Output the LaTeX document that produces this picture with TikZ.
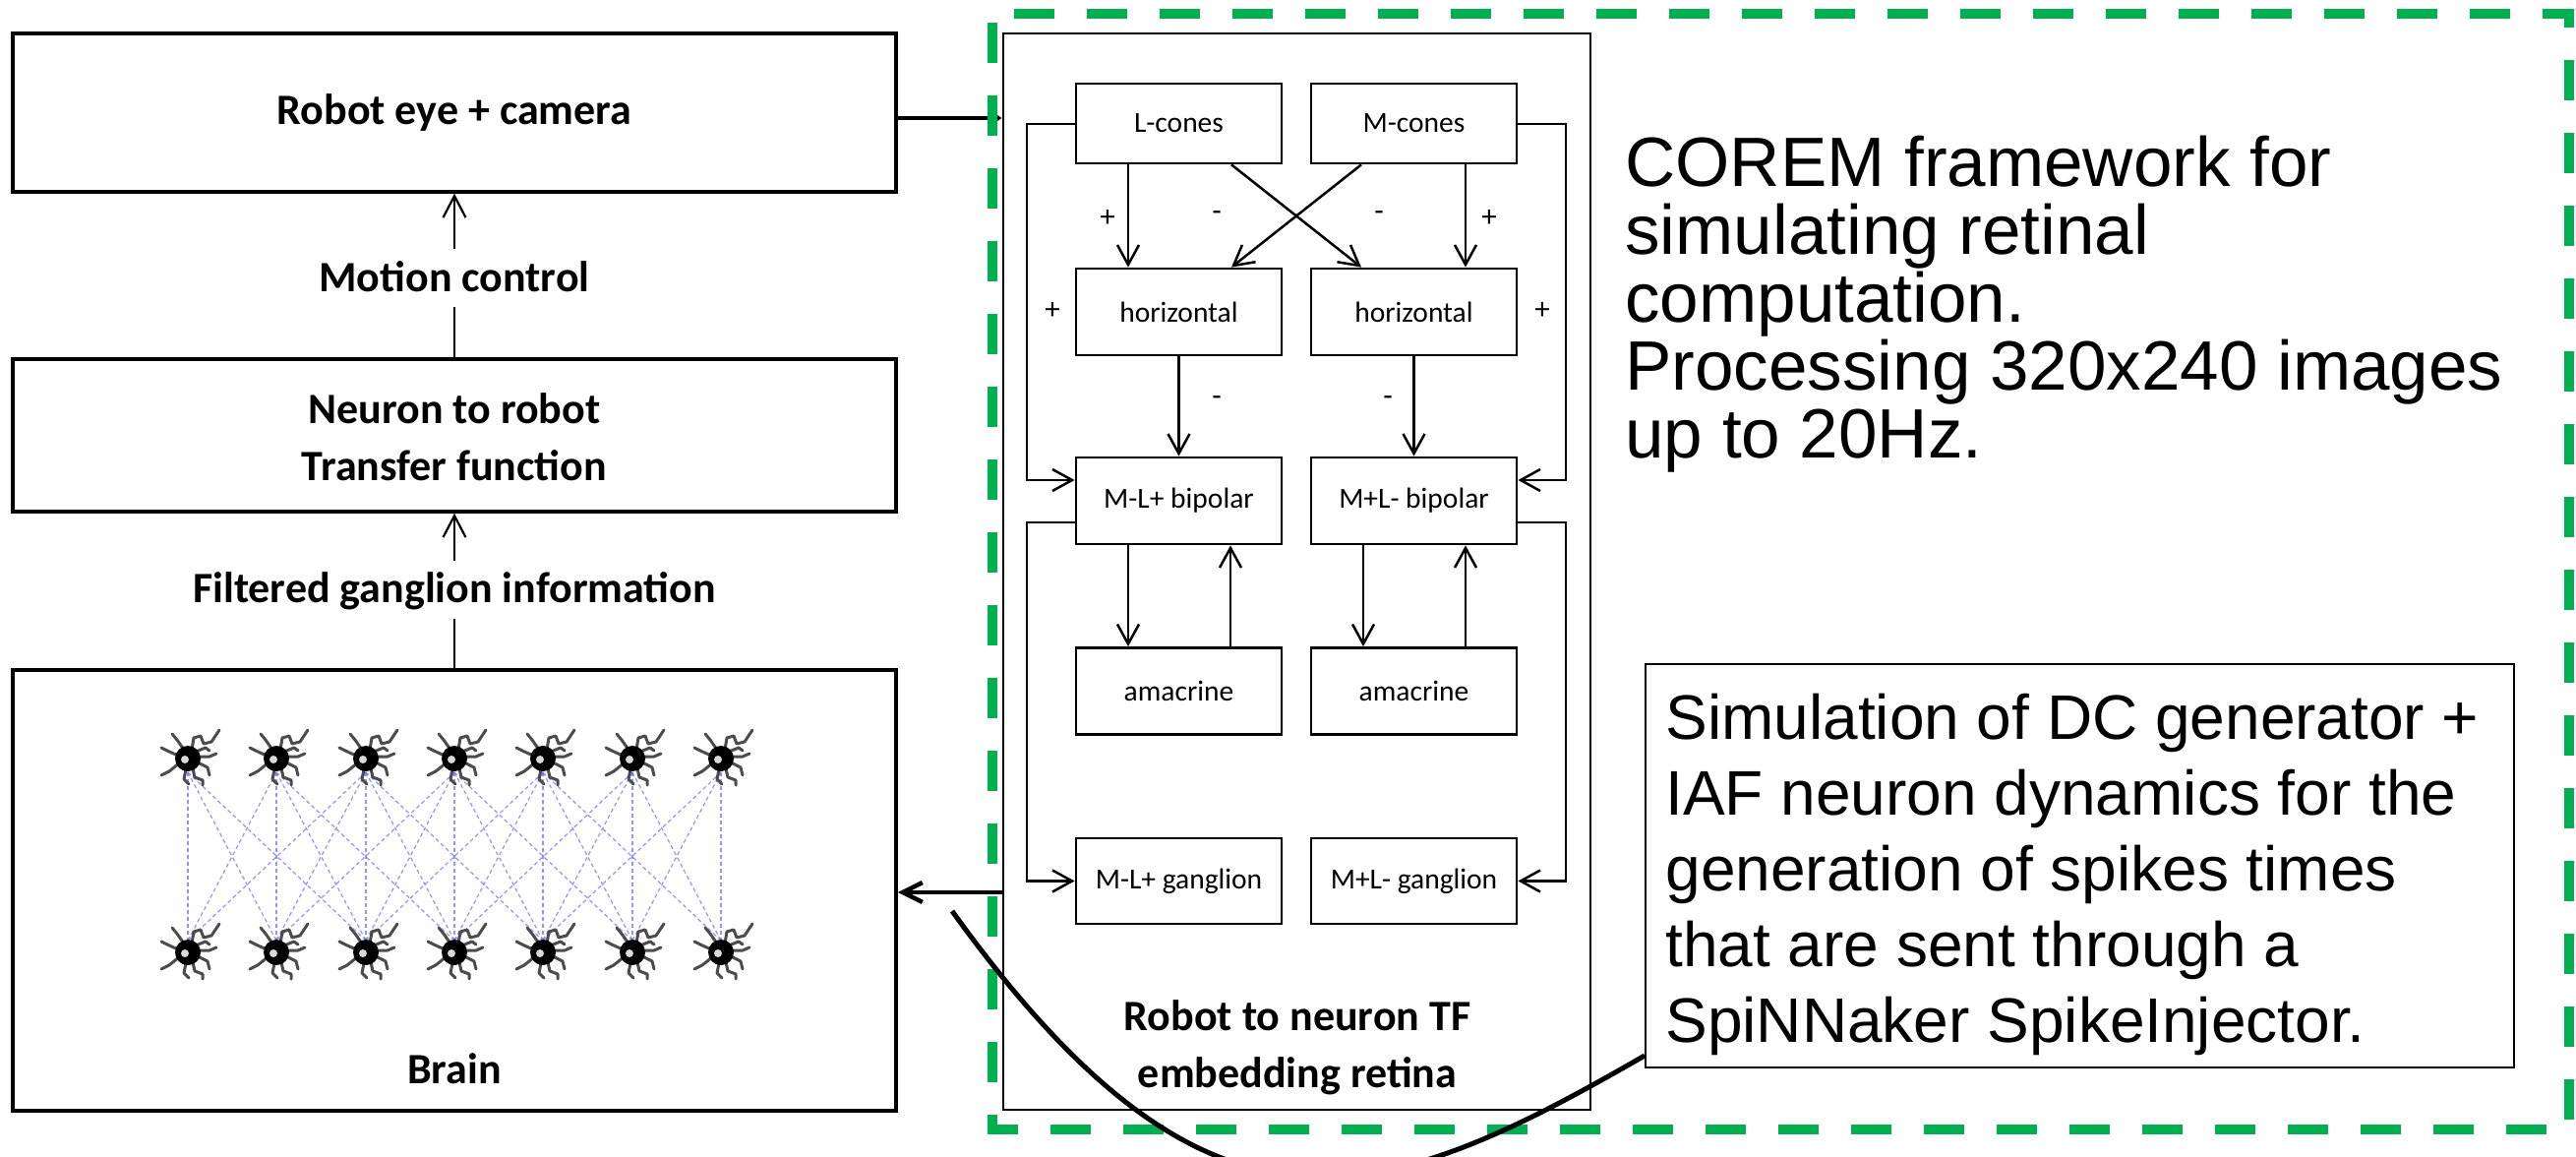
\documentclass[tikz,border=0pt]{standalone}
\usepackage{fontspec}
\setmainfont{Carlito}
\newfontfamily\arialfont{Liberation Sans}
\usetikzlibrary{arrows.meta,calc}
\definecolor{framegreen}{RGB}{0,176,80}
\definecolor{linkblue}{RGB}{110,110,255}
\pgfdeclarelayer{back}
\pgfsetlayers{back,main}

\begin{document}
\begin{tikzpicture}[x=0.5pt,y=-0.5pt,
  box/.style={draw, line width=1.75pt, minimum width=449pt, inner sep=0pt},
  cell/.style={draw, line width=1.4pt, minimum width=104.5pt, minimum height=44pt,
    inner sep=0pt, font=\fontsize{14.75pt}{18pt}\selectfont},
  biglbl/.style={font=\bfseries\fontsize{22pt}{29pt}\selectfont, align=center, inner sep=0pt},
  sign/.style={font=\fontsize{15.5pt}{18pt}\selectfont, inner sep=0pt},
  arr/.style={line width=1.25pt, -{Straight Barb[length=10pt,width=11pt]}},
  uparr/.style={line width=1.1pt, -{Straight Barb[length=11pt,width=11.5pt]}},
  link/.style={linkblue, line width=0.6pt, dash pattern=on 2pt off 1.5pt, opacity=0.75},
  prose/.style={align=left, inner sep=0pt},
  dend/.style={black!70, line width=1.5pt, line cap=round, line join=round},
  nrn/.pic={
    \draw[dend] (4,-9) -- (6,-21) -- (13,-23) -- (16,-15) -- (24,-17) -- (32,-29);
    \draw[dend] (-4,-9) -- (-11,-19) -- (-16,-25);
    \draw[dend] (-10,-3) -- (-21,-8) -- (-27,-11);
    \draw[dend] (-9,5) -- (-19,13) -- (-27,17);
    \draw[dend] (-2,11) -- (-4,21) -- (1,26);
    \draw[dend] (5,10) -- (7,19) -- (15,22) -- (15,27);
    \draw[dend] (10,4) -- (20,9) -- (22,17);
    \draw[dend] (11,-2) -- (22,-2) -- (29,-5);
    \draw[dend] (8,-7) -- (18,-11) -- (22,-8);
    \fill[black] (0,0) circle[radius=6.5pt];
    \fill[white!85!black] (-3,1) circle[radius=2pt];
    \coordinate (-c) at (0,0);
  }
]
\useasboundingbox (0,0) rectangle (2619,1176);

% ---------- left column ----------
\node[box, minimum height=80.5pt] (eye) at (462,114.5) {};
\node[biglbl] (eyelbl) at (462,115) {Robot eye + camera};
\node[biglbl] (motion) at (462,281) {Motion control};
\node[box, minimum height=77.5pt] (neuron) at (462,442.5) {};
\node[biglbl] (neuronlbl) at (462,444) {Neuron to robot\\Transfer function};
\node[biglbl] (filtered) at (462,601) {Filtered ganglion information};
\node[box, minimum height=224pt] (brain) at (462,905) {};
\node[biglbl] (brainlbl) at (462,1086) {Brain};

\draw[uparr] (eye.south |- 0,253) -- (eye.south);
\draw[line width=1.1pt] (neuron.north) -- (neuron.north |- 0,312);
\draw[uparr] (neuron.south |- 0,570) -- (neuron.south);
\draw[line width=1.1pt] (brain.north) -- (brain.north |- 0,629);

% brain network
\foreach \i/\x in {1/191,2/281,3/372,4/462,5/552,6/643,7/733} {
  \pic (t\i) at (\x,771) {nrn};
  \pic (b\i) at (\x,968) {nrn};
}
\begin{pgfonlayer}{back}
\foreach \i in {1,...,7} {
  \foreach \j in {1,...,7} {
    \pgfmathtruncatemacro\dd{abs(\i-\j)}
    \ifnum\dd<3
      \draw[link] ($(t\i-c)+(0,14)$) -- ($(b\j-c)+(0,-12)$);
    \fi
  }
}
\end{pgfonlayer}

% ---------- retina model ----------
\node[draw, line width=1.4pt, minimum width=298.5pt, minimum height=547pt, inner sep=0pt] (retina) at (1318.5,581) {};
\node[cell, minimum height=40.5pt] (lcones) at (1198.5,125.5) {L-cones};
\node[cell, minimum height=40.5pt] (mcones) at (1437.5,125.5) {M-cones};
\node[cell] (hl) at (1198.5,317) {horizontal};
\node[cell] (hr) at (1437.5,317) {horizontal};
\node[cell] (bl) at (1198.5,509) {M-L+ bipolar};
\node[cell] (br) at (1437.5,509) {M+L- bipolar};
\node[cell] (al) at (1198.5,702.5) {amacrine};
\node[cell] (ar) at (1437.5,702.5) {amacrine};
\node[cell, minimum height=43.5pt] (gl) at (1198.5,895.5) {M-L+ ganglion};
\node[cell, minimum height=43.5pt] (gr) at (1437.5,895.5) {M+L- ganglion};
\node[biglbl] (retinalbl) at (1319,1065) {Robot to neuron TF\\embedding retina};

\draw[arr] (lcones.south -| 1147,0) -- (hl.north -| 1147,0);
\draw[arr] (lcones.south -| 1252,0) -- (hr.north -| 1384,0);
\draw[arr] (mcones.south -| 1384,0) -- (hl.north -| 1252,0);
\draw[arr] (mcones.south -| 1490,0) -- (hr.north -| 1490,0);
\draw[arr] (hl.south) -- (bl.north);
\draw[arr] (hr.south) -- (br.north);
\draw[arr] (bl.south -| 1147,0) -- (al.north -| 1147,0);
\draw[arr] (al.north -| 1251,0) -- (bl.south -| 1251,0);
\draw[arr] (br.south -| 1386,0) -- (ar.north -| 1386,0);
\draw[arr] (ar.north -| 1490,0) -- (br.south -| 1490,0);
\draw[arr] (lcones.west |- 0,126) -| (1044,488) -- (bl.west |- 0,488);
\draw[arr] (bl.west |- 0,531) -| (1044,895.5) -- (gl.west);
\draw[arr] (mcones.east |- 0,126) -| (1592,488) -- (br.east |- 0,488);
\draw[arr] (br.east |- 0,531) -| (1592,895.5) -- (gr.east);

\node[sign] (s1) at (1126,222) {+};
\node[sign] (s2) at (1237,220) {-};
\node[sign] (s3) at (1402,220) {-};
\node[sign] (s4) at (1514,222) {+};
\node[sign] (s5) at (1070,316) {+};
\node[sign] (s6) at (1568,316) {+};
\node[sign] (s7) at (1237,408) {-};
\node[sign] (s8) at (1411,408) {-};

% ---------- links between the blocks ----------
\draw[line width=2.25pt, -{Straight Barb[length=4pt,width=5pt]}] (eye.east |- 0,120) -- (retina.west |- 0,120);
\draw[line width=2.25pt, -{Straight Barb[length=10pt,width=10pt]}] (retina.west |- 0,907) -- (brain.east |- 0,907);

% ---------- framework frame and notes ----------
\draw[framegreen, line width=5pt, dash pattern=on 20.5pt off 16.5pt, dash phase=32.5pt]
  (1009,14) -- (1009,1148) -- (2612,1148) -- (2612,14) -- cycle;

\node[prose, anchor=north west, font=\arialfont\fontsize{35.5pt}{34.5pt}\selectfont] (corem) at (1652,138)
  {COREM framework for\\simulating retinal\\computation.\\Processing 320x240 images\\up to 20Hz.};

\node[draw, fill=white, line width=1pt, minimum width=441.5pt, minimum height=205pt, inner sep=0pt] (callout) at (2114.5,880) {};
\node[prose, anchor=north west, font=\arialfont\fontsize{32pt}{38.5pt}\selectfont] (callouttext) at (1693,705)
  {Simulation of DC generator +\\IAF neuron dynamics for the\\generation of spikes times\\that are sent through a\\SpiNNaker SpikeInjector.};

\coordinate (tail) at (968,926);
\begin{scope}
  \clip (0,0) rectangle (2619,1176);
  \draw[line width=2.5pt] (tail) .. controls (1230,1290) and (1400,1230) .. (callout.west |- 0,1073);
\end{scope}
\end{tikzpicture}
\end{document}
